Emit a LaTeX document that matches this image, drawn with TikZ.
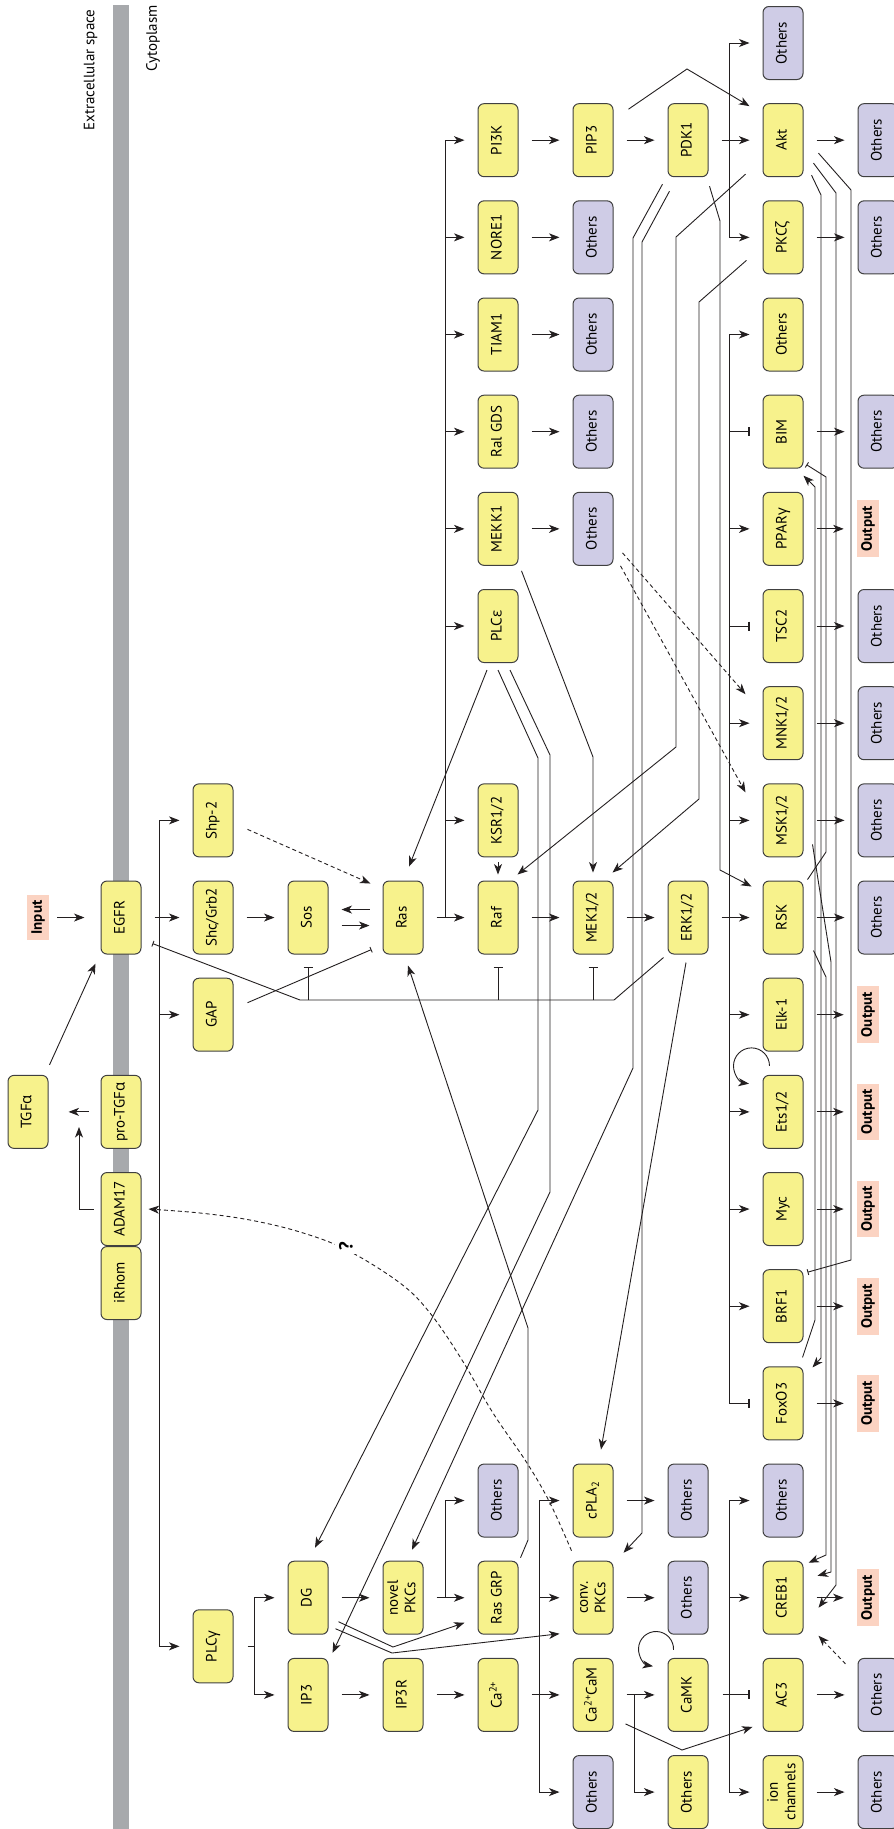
\documentclass[tikz,border=0pt]{standalone}
\usepackage{fontspec}
\setmainfont{PT Sans}
\newfontfamily\grk{Open Sans}
\usepackage{graphicx}
\usetikzlibrary{arrows.meta,positioning,calc}
\definecolor{ybox}{RGB}{247,242,140}
\definecolor{pbox}{RGB}{207,204,230}
\definecolor{obox}{RGB}{251,211,194}
\definecolor{edge}{RGB}{64,64,64}
\definecolor{memb}{RGB}{167,169,172}
\definecolor{ink}{RGB}{35,31,32}
\newcommand{\lbl}{\fontsize{15}{17.5}\selectfont}
\newcommand{\rt}[1]{\rotatebox{90}{\begin{tabular}{@{}c@{}}#1\end{tabular}}}
\begin{document}
\begin{tikzpicture}[x=1pt,y=-1pt,line width=.9pt,draw=ink,
  mol/.style={draw=edge,fill=ybox,rounded corners=6pt,minimum width=40pt,minimum height=73pt,inner sep=0pt,line width=1pt,font=\lbl},
  oth/.style={mol,fill=pbox},
  outbox/.style={fill=obox,inner xsep=4pt,inner ysep=6pt,font=\lbl\bfseries},
  act/.style={-{Stealth[length=10.5pt,width=8pt,inset=3pt]}},
  inh/.style={-{Bar[width=9pt,line width=1.8pt]}},
  inhs/.style={-{Bar[width=6pt]}},
  hop/.style={act,shorten <=13pt,shorten >=13pt},
  br/.style={act,shorten >=13pt},
  dsh/.style={dash pattern=on 4pt off 3pt}]
\useasboundingbox (0,0) rectangle (894,1829);
% grid of rows and columns
\foreach \j in {0,...,18} \coordinate (r\j) at (0,{43+97.17*\j});
\foreach \i/\x in {0/28,1/121,2/213,3/308,4/403,5/498,6/593,7/688,8/783,9/878} \coordinate (c\i) at (\x,0);
\coordinate (rmid) at ($(r16)!.5!(r17)$);
\coordinate (ci) at (38,0); \coordinate (co) at (868,0);
\coordinate (xa) at (445,0); \coordinate (xb) at (159,0); \coordinate (xc) at (254,0);
\coordinate (xd) at (539,0); \coordinate (xe) at (634,0); \coordinate (xf) at (729,0);
\coordinate (bus) at (300,1000); \coordinate (cleave) at (79,1127);

% membrane
\fill[memb] (113,5) rectangle (129,1829);
\node[anchor=north,inner sep=0pt,font=\lbl] (ecs) at (90.5,9) {\rotatebox{90}{Extracellular space}};
\node[anchor=north,inner sep=0pt,font=\lbl] (cyt) at (153,5) {\rotatebox{90}{Cytoplasm}};

% nodes
\node[outbox] (input) at (ci |- r9) {\rotatebox{90}{Input}};
\node[mol] (tgfa) at (c0 |- r11) {\rt{TGF{\grk α}}};
\node[mol] (egfr) at (c1 |- r9) {\rt{EGFR}};
\node[mol] (protgfa) at (c1 |- r11) {\rt{pro-TGF{\grk α}}};
\node[mol] (adam) at (c1 |- r12) {\rt{ADAM17}};
\node[mol,below=0pt of adam] (irhom) {\rt{iRhom}};
\node[mol] (shp) at (c2 |- r8) {\rt{Shp-2}};
\node[mol] (shc) at (c2 |- r9) {\rt{Shc/Grb2}};
\node[mol] (gap) at (c2 |- r10) {\rt{GAP}};
\node[mol] (plcg) at (c2 |- rmid) {\rt{PLC{\grk γ}}};
\node[mol] (sos) at (c3 |- r9) {\rt{Sos}};
\node[mol] (dg) at (c3 |- r16) {\rt{DG}};
\node[mol] (ipthree) at (c3 |- r17) {\rt{IP3}};
\node[mol] (ras) at (c4 |- r9) {\rt{Ras}};
\node[mol] (npkc) at (c4 |- r16) {\rt{novel\\PKCs}};
\node[mol] (ipr) at (c4 |- r17) {\rt{IP3R}};
\node[mol] (pik) at (c5 |- r1) {\rt{PI3K}};
\node[mol] (nore) at (c5 |- r2) {\rt{NORE1}};
\node[mol] (tiam) at (c5 |- r3) {\rt{TIAM1}};
\node[mol] (ral) at (c5 |- r4) {\rt{Ral GDS}};
\node[mol] (mekk) at (c5 |- r5) {\rt{MEKK1}};
\node[mol] (plce) at (c5 |- r6) {\rt{PLC{\grk ε}}};
\node[mol] (ksr) at (c5 |- r8) {\rt{KSR1/2}};
\node[mol] (raf) at (c5 |- r9) {\rt{Raf}};
\node[oth] (o5-15) at (c5 |- r15) {\rt{Others}};
\node[mol] (rasgrp) at (c5 |- r16) {\rt{Ras GRP}};
\node[mol] (ca) at (c5 |- r17) {\rt{Ca\textsuperscript{2+}}};
\node[mol] (pip) at (c6 |- r1) {\rt{PIP3}};
\foreach \j in {2,...,5} \node[oth] (o6-\j) at (c6 |- r\j) {\rt{Others}};
\node[mol] (mek) at (c6 |- r9) {\rt{MEK1/2}};
\node[mol] (cpla) at (c6 |- r15) {\rt{cPLA\textsubscript{2}}};
\node[mol] (cpkc) at (c6 |- r16) {\rt{conv.\\PKCs}};
\node[mol] (cacam) at (c6 |- r17) {\rt{Ca\textsuperscript{2+}CaM}};
\node[oth] (o6-18) at (c6 |- r18) {\rt{Others}};
\node[mol] (pdk) at (c7 |- r1) {\rt{PDK1}};
\node[mol] (erk) at (c7 |- r9) {\rt{ERK1/2}};
\node[oth] (o7-15) at (c7 |- r15) {\rt{Others}};
\node[oth] (o7-16) at (c7 |- r16) {\rt{Others}};
\node[mol] (camk) at (c7 |- r17) {\rt{CaMK}};
\node[mol] (o7-18) at (c7 |- r18) {\rt{Others}};
\node[oth] (o8-0) at (c8 |- r0) {\rt{Others}};
\node[mol] (akt) at (c8 |- r1) {\rt{Akt}};
\node[mol] (pkcz) at (c8 |- r2) {\rt{PKC{\grk ζ}}};
\node[mol] (o8-3) at (c8 |- r3) {\rt{Others}};
\node[mol] (bim) at (c8 |- r4) {\rt{BIM}};
\node[mol] (ppar) at (c8 |- r5) {\rt{PPAR{\grk γ}}};
\node[mol] (tsc) at (c8 |- r6) {\rt{TSC2}};
\node[mol] (mnk) at (c8 |- r7) {\rt{MNK1/2}};
\node[mol] (msk) at (c8 |- r8) {\rt{MSK1/2}};
\node[mol] (rsk) at (c8 |- r9) {\rt{RSK}};
\node[mol] (elk) at (c8 |- r10) {\rt{Elk-1}};
\node[mol] (ets) at (c8 |- r11) {\rt{Ets1/2}};
\node[mol] (myc) at (c8 |- r12) {\rt{Myc}};
\node[mol] (brf) at (c8 |- r13) {\rt{BRF1}};
\node[mol] (foxo) at (c8 |- r14) {\rt{FoxO3}};
\node[oth] (o8-15) at (c8 |- r15) {\rt{Others}};
\node[mol] (creb) at (c8 |- r16) {\rt{CREB1}};
\node[mol] (ac) at (c8 |- r17) {\rt{AC3}};
\node[mol] (ion) at (c8 |- r18) {\rt{ion\\channels}};
\foreach \j in {1,2,4,6,7,8,9,17,18} \node[oth] (o9-\j) at (c9 |- r\j) {\rt{Others}};
\foreach \j in {5,10,11,12,13,14,16} \node[outbox] (out\j) at (co |- r\j) {\rotatebox{90}{Output}};

% straight steps along the rows
\foreach \a/\b in {egfr/shc,shc/sos,ras/raf,raf/mek,mek/erk,erk/rsk,pik/pip,pip/pdk,pdk/akt,
  nore/o6-2,tiam/o6-3,ral/o6-4,mekk/o6-5,akt/o9-1,pkcz/o9-2,bim/o9-4,ppar/out5,tsc/o9-6,
  mnk/o9-7,msk/o9-8,rsk/o9-9,elk/out10,ets/out11,myc/out12,brf/out13,foxo/out14,creb/out16,
  ac/o9-17,ion/o9-18,cpla/o7-15,cpkc/o7-16,dg/npkc,ipthree/ipr,ipr/ca,ca/cacam,cacam/camk,npkc/rasgrp}
  \draw[hop] (\a) -- (\b);
\draw[act,shorten <=8pt,shorten >=16pt] (input) -- (egfr);
\draw[act] ([xshift=1pt,yshift=10pt]tgfa.north east) -- ([xshift=-5pt,yshift=-9pt]egfr.south west);
\draw[act,shorten <=12pt,shorten >=20pt] (protgfa) -- (tgfa);
\draw[act,shorten <=7pt] (adam.west) -| (cleave);
\draw[hop] ([yshift=8pt]ras.west) -- ([yshift=8pt]sos.east);
\draw[hop] ([yshift=-8pt]sos.east) -- ([yshift=-8pt]ras.west);
\draw[act,shorten <=5pt,shorten >=6pt] (ksr) -- (raf);
\draw[inh,shorten <=14pt,shorten >=13pt] (camk) -- (ac);

% trunks
\draw (xa |- pik) -- (xa |- raf);
\foreach \t in {pik,nore,tiam,ral,mekk,plce,ksr} \draw[br] (xa |- \t) -- (\t);
\draw (xb |- shp) -- (xb |- plcg);
\foreach \t in {shp,gap,plcg} \draw[br] (xb |- \t) -- (\t);
\draw[shorten <=14pt] (plcg) -- (xc |- plcg);
\draw (xc |- dg) -- (xc |- ipthree);
\foreach \t in {dg,ipthree} \draw[br] (xc |- \t) -- (\t);
\draw[br] (xa |- npkc) |- (o5-15);
\draw (xd |- cpla) -- (xd |- o6-18);
\foreach \t in {cpla,cpkc,o6-18} \draw[br] (xd |- \t) -- (\t);
\draw[br] (xe |- camk) |- (o7-18);
\draw (xf |- o8-15) -- (xf |- ion);
\foreach \t in {o8-15,creb,ion} \draw[br] (xf |- \t) -- (\t);
\draw (xf |- o8-0) -- (xf |- pkcz);
\foreach \t in {o8-0,pkcz} \draw[br] (xf |- \t) -- (\t);
\draw (xf |- o8-3) -- (xf |- foxo);
\foreach \t in {o8-3,ppar,mnk,msk,elk,ets,myc,brf} \draw[br] (xf |- \t) -- (\t);
\foreach \t in {bim,tsc,foxo} \draw[inh,shorten >=13pt] (xf |- \t) -- (\t);

% ERK feedback
\draw[inhs] ([xshift=-4pt,yshift=-3pt]erk.south west) -- (614,1000) -- (bus) -- ([xshift=11pt,yshift=11pt]egfr.south east);
\foreach \t in {sos,raf,mek} \draw[inh,shorten >=12pt] (\t |- bus) -- (\t);
\draw[inhs] ([xshift=14pt,yshift=12pt]gap.east) -- ([xshift=-11pt,yshift=5pt]ras.south west);
\draw[act,dsh] ([xshift=14pt,yshift=-9pt]shp.east) -- ([xshift=-12pt,yshift=-3pt]ras.north west);

% long links
\draw[act] ([xshift=15pt,yshift=-6pt]pip.north east) -- (687,69) -- ([xshift=-13pt,yshift=-3pt]akt.north west);
\draw[act] ([xshift=-17pt,yshift=3pt]akt.south west) -- (676,237) -- (676,747) -- ([xshift=-1pt,yshift=6pt]raf.north east);
\draw[act] ([xshift=-16pt,yshift=14pt]pkcz.south west) -- (699,302) -- (699,799) -- ([xshift=-1pt,yshift=8pt]mek.north east);
\draw[act] ([xshift=3pt,yshift=-5pt]mekk.south east) -- (593,757) -- ([yshift=8pt]mek.north);
\draw[act] ([xshift=-11pt,yshift=-7pt]plce.south) -- ([xshift=6pt,yshift=14pt]ras.north);
\draw[act] ([yshift=-7pt]plce.south) -- (538,758) -- (538,1110) -- ([xshift=7pt,yshift=13pt]dg.north);
\draw[act] ([xshift=12pt,yshift=-7pt]plce.south) -- (550,755) -- (550,1192) -- ([xshift=4pt,yshift=5pt]ipthree.north east);
\draw[act] ([xshift=-5pt,yshift=-7pt]pdk.south west) -- (633,238) -- (633,1068) -- ([xshift=9pt,yshift=11pt]npkc.north);
\draw[act] ([xshift=2pt,yshift=-14pt]pdk.south west) -- (642,242) -- (642,1533) -- ([xshift=10pt,yshift=8pt]cpkc.north east);
\draw[act] ([xshift=1pt,yshift=-9pt]pdk.south east) -- (720,221) -- (720,870) -- ([xshift=-11pt,yshift=-6pt]rsk.north west);
\draw[act] ([xshift=2pt,yshift=3pt]rasgrp.north east) -- (528,1540) -- (528,1328) -- ([xshift=5pt,yshift=-11pt]ras.south);
\draw[act] ([xshift=-2pt,yshift=-8pt]erk.south) -- ([xshift=8pt,yshift=14pt]cpla.north);
\draw[act,dsh] ([xshift=9pt,yshift=13pt]o6-5.south east) -- ([xshift=-17pt,yshift=-8pt]mnk.north west);
\draw[act,dsh] ([xshift=7pt]o6-5.south east) -- ([xshift=-17pt,yshift=-9pt]msk.north west);
\draw[act] ([xshift=10pt,yshift=-24pt]dg.east) -- (393,1647) -- ([xshift=-13pt,yshift=-25pt]rasgrp.west);
\draw[act] ([xshift=7pt,yshift=-31pt]dg.east) -- (392,1653) -- ([xshift=-13pt,yshift=-36pt]cpkc.west);
\draw[act] ([xshift=12pt,yshift=8pt]cacam.south east) -- (682,1750) -- ([xshift=-10pt,yshift=5pt]ac.south west);
\draw[act,dsh] ([xshift=-12pt,yshift=-6pt]o9-17.north west) -- ([xshift=15pt,yshift=-1pt]creb.south east);

% right-hand bundle
\draw[act] ([xshift=-1pt,yshift=9pt]foxo.north east) -- (815,1320) -- (815,487) -- ([yshift=-7pt]bim.south east);
\draw[inhs] ([xshift=4pt,yshift=1pt]rsk.north east) -- (826,852) -- (826,477) -- ([xshift=3pt,yshift=4pt]bim.south east);
\draw[act] ([xshift=8pt,yshift=2pt]akt.south east) -- (821,195) -- (821,1358) -- ([xshift=9pt,yshift=-1pt]foxo.north east);
\draw[act] ([xshift=10pt,yshift=-23pt]akt.east) -- (836,193) -- (836,1585) -- ([xshift=15pt,yshift=-10pt]creb.east);
\draw[inhs] ([xshift=15pt,yshift=-13pt]akt.east) -- (851,190) -- (851,1260) -- ([xshift=4pt,yshift=-3pt]brf.north east);
\draw[act] ([xshift=10pt,yshift=4pt]rsk.south east) -- (826,977) -- (826,1555) -- ([xshift=5pt,yshift=-2pt]creb.north east);
\draw[act] ([xshift=9pt,yshift=13pt]msk.south east) -- (831,962) -- (831,1572) -- ([xshift=14pt,yshift=-15pt]creb.north east);

% self loops
\draw[act] ([xshift=6pt,yshift=8pt]camk.north west) arc[start angle=3,end angle=-260,radius=17.5];
\draw[act] ([xshift=7pt,yshift=9pt]ets.north west) arc[start angle=0,end angle=-262,radius=18];

% conv. PKCs to ADAM17
\draw[act,dsh] plot[smooth,tension=.6] coordinates {([xshift=-1pt,yshift=10pt]cpkc.north west) (550,1503) (527,1463) (493,1413) (462,1360) (430,1313) (400,1283) (347,1250) (300,1232) (250,1220) (200,1213) ([xshift=7pt]adam.east)};
\node[fill=white,inner sep=4pt,font=\fontsize{19}{20}\selectfont\bfseries] (qm) at (346,1246) {\rotatebox{90}{?}};
\end{tikzpicture}
\end{document}
